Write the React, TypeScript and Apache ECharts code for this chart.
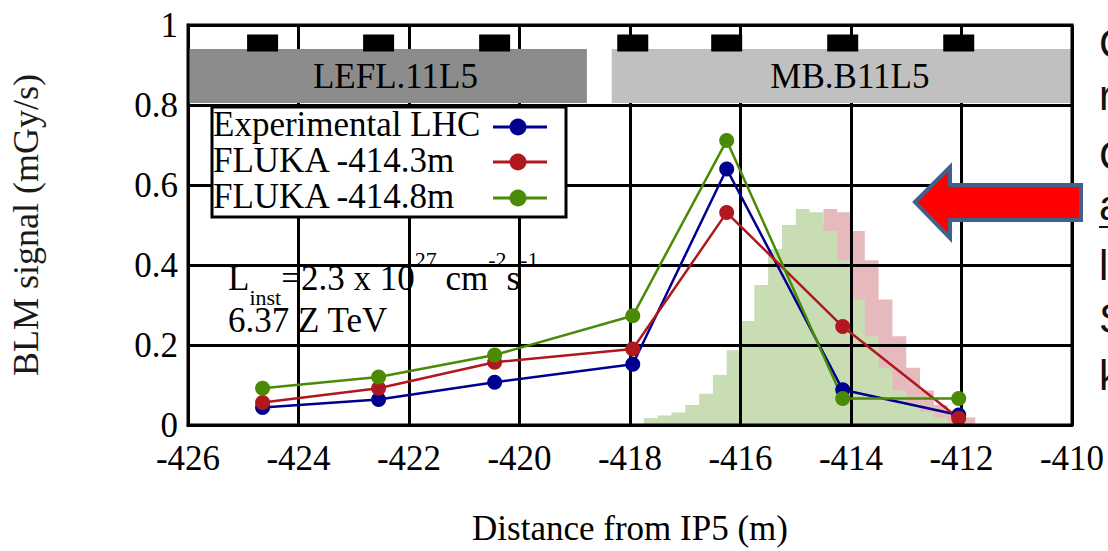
import React, { useEffect, useRef } from "react";
import * as echarts from "echarts";

// ---- data ----
const blmPositions = [-424.65, -422.55, -420.45, -417.95, -416.25, -414.15, -412.05];
const experimentalLHC = [0.044, 0.064, 0.107, 0.152, 0.64, 0.088, 0.025];
const fluka4143 = [0.056, 0.092, 0.157, 0.19, 0.531, 0.246, 0.017];
const fluka4148 = [0.092, 0.12, 0.175, 0.273, 0.711, 0.066, 0.066];

const greenEdges = [-417.75, -417.5, -417.25, -417, -416.75, -416.5, -416.25, -416, -415.75, -415.5, -415.25, -415, -414.75, -414.5, -414.25, -414, -413.75, -413.5, -413.25, -413, -412.75, -412.5, -412.25];
const greenHeights = [0.017, 0.024, 0.031, 0.05, 0.078, 0.125, 0.187, 0.26, 0.35, 0.44, 0.5, 0.54, 0.532, 0.485, 0.412, 0.314, 0.222, 0.143, 0.086, 0.052, 0.033, 0.019];
const pinkEdges = [-417.25, -417, -416.75, -416.5, -416.25, -416, -415.75, -415.5, -415.25, -415, -414.75, -414.5, -414.25, -414, -413.75, -413.5, -413.25, -413, -412.75, -412.5, -412.25, -412, -411.75];
const pinkHeights = [0.017, 0.024, 0.031, 0.05, 0.078, 0.125, 0.187, 0.26, 0.35, 0.44, 0.5, 0.54, 0.532, 0.485, 0.412, 0.314, 0.222, 0.143, 0.086, 0.05, 0.033, 0.019];

const magnetNames = ["LEFL.11L5", "MB.B11L5"];
const magnetStart = [-426, -418.33];
const magnetEnd = [-418.78, -410];
const magnetColors = ["#8c8c8c", "#c0c0c0"];
const magnetBottom = 0.805;
const magnetTop = 0.94;
const blmMarkerLevel = 0.955;

const seriesNames = ["Experimental LHC", "FLUKA -414.3m", "FLUKA -414.8m"];
const seriesColors = ["#000090", "#b0181f", "#4b8a05"];
const sideLetters = ["C", "r", "C", "a", "l", "S", "k"];

const SERIF = "'Liberation Serif', 'Times New Roman', serif";

function stepData(edges: number[], heights: number[]) {
  return edges.map((e, i) => [e, i < heights.length ? heights[i] : 0]);
}

export default function App() {
  const ref = useRef<HTMLDivElement>(null);
  useEffect(() => {
    if (!ref.current) return;
    const chart = echarts.init(ref.current, undefined, { renderer: "svg" });
    const lineValues = [experimentalLHC, fluka4143, fluka4148];

    const legendY = [127, 162, 198];
    const legendTextY = [124, 160, 196];
    const legendGraphics: any[] = [
      {
        type: "rect",
        z: 20,
        shape: { x: 212, y: 107, width: 354, height: 110 },
        style: { fill: "#fff", stroke: "#000", lineWidth: 3 },
      },
    ];
    seriesNames.forEach((n, i) => {
      legendGraphics.push({
        type: "text",
        z: 21,
        x: 213,
        y: legendTextY[i],
        style: { text: n, fontSize: 35, fontFamily: SERIF, fill: "#000", verticalAlign: "middle", align: "left" },
      });
      legendGraphics.push({
        type: "line",
        z: 21,
        shape: { x1: 493, y1: legendY[i], x2: 547, y2: legendY[i] },
        style: { stroke: seriesColors[i], lineWidth: 3 },
      });
      legendGraphics.push({
        type: "circle",
        z: 22,
        shape: { cx: 518, cy: legendY[i], r: 8.5 },
        style: { fill: seriesColors[i] },
      });
    });

    const sideY = [43, 95, 155, 205, 265, 318, 375];
    const sideGraphics: any[] = sideLetters.map((l, i) => ({
      type: "text",
      z: 20,
      x: 1099,
      y: sideY[i],
      style: { text: l, fontSize: 42, fontFamily: "'Liberation Sans', Arial, sans-serif", fill: "#111", verticalAlign: "middle", align: "left" },
    }));
    sideGraphics.push({
      type: "line",
      z: 20,
      shape: { x1: 1099, y1: 227, x2: 1108, y2: 227 },
      style: { stroke: "#111", lineWidth: 2 },
    });

    const option: any = {
      animation: false,
      backgroundColor: "#fff",
      grid: {
        left: 174,
        right: 36,
        top: 25,
        bottom: 104,
        show: true,
        borderColor: "#000",
        borderWidth: 3,
        backgroundColor: "transparent",
        z: 10,
      },
      xAxis: {
        type: "value",
        min: -426,
        max: -410,
        interval: 2,
        z: 3,
        name: "Distance from IP5 (m)",
        nameLocation: "middle",
        nameGap: 86,
        nameTextStyle: { fontSize: 35, fontFamily: SERIF, color: "#000" },
        axisLine: { show: true, lineStyle: { color: "#000", width: 3 } },
        axisTick: { show: false },
        axisLabel: { fontSize: 35, fontFamily: SERIF, color: "#000", margin: 16 },
        splitLine: { show: true, lineStyle: { color: "#000", width: 3 } },
      },
      yAxis: {
        type: "value",
        min: 0,
        max: 1,
        interval: 0.2,
        z: 3,
        name: "BLM signal (mGy/s)",
        nameLocation: "middle",
        nameGap: 144,
        nameRotate: 90,
        nameTextStyle: { fontSize: 36, fontFamily: SERIF, color: "#1a1a1a" },
        axisLine: { show: true, lineStyle: { color: "#000", width: 3 } },
        axisTick: { show: false },
        axisLabel: { fontSize: 35, fontFamily: SERIF, color: "#000", margin: 10 },
        splitLine: { show: true, lineStyle: { color: "#000", width: 3 } },
      },
      series: [
        {
          name: "FLUKA shower -414.3m",
          type: "line",
          step: "end",
          z: 1,
          silent: true,
          showSymbol: false,
          symbol: "none",
          lineStyle: { width: 0 },
          areaStyle: { color: "#e6b9bd", opacity: 1 },
          data: stepData(pinkEdges, pinkHeights),
        },
        {
          name: "FLUKA shower -414.8m",
          type: "line",
          step: "end",
          z: 1,
          silent: true,
          showSymbol: false,
          symbol: "none",
          lineStyle: { width: 0 },
          areaStyle: { color: "#c8ddb4", opacity: 1 },
          data: stepData(greenEdges, greenHeights),
        },
        {
          name: "BLM",
          type: "scatter",
          z: 5,
          symbol: "rect",
          symbolSize: [31, 17],
          itemStyle: { color: "#000", opacity: 1 },
          data: blmPositions.map((x) => [x, blmMarkerLevel]),
          markArea: {
            silent: true,
            z: 4,
            label: {
              show: true,
              position: "inside",
              fontSize: 35,
              fontFamily: SERIF,
              color: "#000",
              offset: [8, 0],
            },
            data: magnetNames.map((n, i) => [
              { name: n, coord: [magnetStart[i], magnetTop], itemStyle: { color: magnetColors[i], opacity: 1 } },
              { coord: [magnetEnd[i], magnetBottom] },
            ]),
          },
        },
        ...seriesNames.map((n, i) => ({
          name: n,
          type: "line",
          z: 6,
          symbol: "circle",
          symbolSize: 15,
          lineStyle: { color: seriesColors[i], width: 2.5 },
          itemStyle: { color: seriesColors[i], opacity: 1 },
          data: blmPositions.map((x, j) => [x, lineValues[i][j]]),
        })),
      ],
      graphic: [
        ...legendGraphics,
        {
          type: "text",
          z: 20,
          x: 228,
          y: 248,
          style: {
            text: "{m|L}{sub|inst}{m|=2.3 x 10}{sup|27}{m| cm}{sup|-2}{m|s}{sup|-1}",
            verticalAlign: "top",
            align: "left",
            rich: {
              m: { fontSize: 35, fontFamily: SERIF, fill: "#000", color: "#000", lineHeight: 60, verticalAlign: "middle" },
              sup: { fontSize: 22, fontFamily: SERIF, fill: "#000", color: "#000", lineHeight: 26, verticalAlign: "top" },
              sub: { fontSize: 22, fontFamily: SERIF, fill: "#000", color: "#000", lineHeight: 42, verticalAlign: "bottom" },
            },
          },
        },
        {
          type: "text",
          z: 20,
          x: 228,
          y: 320,
          style: { text: "6.37 Z TeV", fontSize: 35, fontFamily: SERIF, fill: "#000", verticalAlign: "middle", align: "left" },
        },
        {
          type: "polygon",
          z: 25,
          shape: {
            points: [
              [915, 202],
              [950, 167],
              [950, 185],
              [1081, 185],
              [1081, 220],
              [950, 220],
              [950, 238],
            ],
          },
          style: { fill: "#ff0000", stroke: "#41608c", lineWidth: 4 },
        },
        ...sideGraphics,
      ],
    };
    chart.setOption(option);
    return () => chart.dispose();
  }, []);
  return (
    <div
      ref={ref}
      style={{ position: "fixed", left: 0, top: 0, width: 1108, height: 551, background: "#fff" }}
    />
  );
}
